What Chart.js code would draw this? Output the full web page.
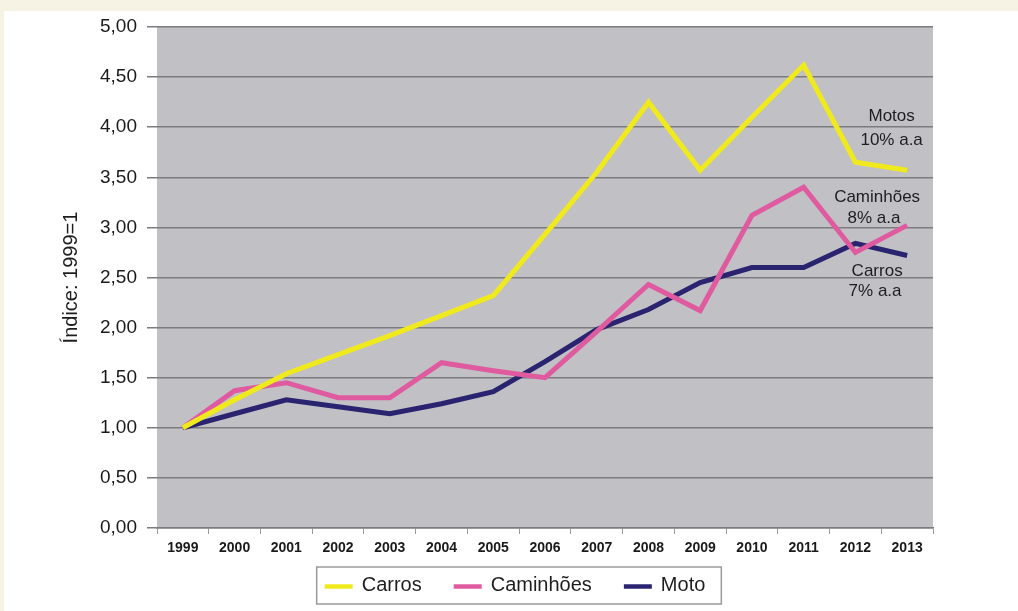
<!DOCTYPE html>
<html>
<head>
<meta charset="utf-8">
<script src="https://cdn.jsdelivr.net/npm/chart.js@4.4.1/dist/chart.umd.min.js"></script>
<style>
  html, body { margin: 0; padding: 0; background: #f6f2e4; width: 1018px; height: 611px; overflow: hidden; }
  #panel { position: absolute; left: 4px; top: 11px; width: 1014px; height: 600px; background: #ffffff; }
  #wrap { position: absolute; left: 0; top: 0; width: 1018px; height: 611px; }
</style>
</head>
<body>
<div id="panel"></div>
<div id="wrap"><canvas id="c" width="1018" height="611"></canvas></div>
<script>
// ---- Data ----
const years = ['1999','2000','2001','2002','2003','2004','2005','2006','2007','2008','2009','2010','2011','2012','2013'];
const carros    = [1.00, 1.28, 1.54, 1.73, 1.92, 2.12, 2.32, 2.93, 3.55, 4.25, 3.57, 4.10, 4.62, 3.65, 3.57];
const caminhoes = [1.00, 1.37, 1.45, 1.30, 1.30, 1.65, 1.57, 1.50, 1.96, 2.43, 2.17, 3.12, 3.40, 2.75, 3.02];
const moto      = [1.00, 1.14, 1.28, 1.21, 1.14, 1.24, 1.36, 1.66, 1.98, 2.18, 2.45, 2.60, 2.60, 2.84, 2.72];
const seriesNames = ['Carros', 'Caminhões', 'Moto'];
const yTickValues = [0, 0.5, 1, 1.5, 2, 2.5, 3, 3.5, 4, 4.5, 5];
const yTitle = 'Índice: 1999=1';
// Annotation texts placed in data coordinates (x = category index, y = value)
const noteLines = ['Motos', '10% a.a', 'Caminhões', '8% a.a', 'Carros', '7% a.a'];
const noteX     = [13.70, 13.70, 13.42, 13.36, 13.42, 13.38];
const noteY     = [4.11, 3.87, 3.30, 3.09, 2.56, 2.36];

const colors = ['#f0ea1c', '#e05aa0', '#2a2470'];
const FONT = '"Liberation Sans", Arial, sans-serif';

const plotBg = {
  id: 'plotBg',
  beforeDraw(chart) {
    const {ctx, chartArea: a} = chart;
    ctx.save();
    ctx.fillStyle = '#c0c0c5';
    ctx.fillRect(a.left, a.top, a.right - a.left, a.bottom - a.top);
    ctx.restore();
  }
};

const notes = {
  id: 'notes',
  afterDatasetsDraw(chart) {
    const {ctx, scales: {x, y}} = chart;
    ctx.save();
    ctx.font = '17px ' + FONT;
    ctx.fillStyle = '#1e1e1e';
    ctx.textAlign = 'center';
    ctx.textBaseline = 'middle';
    noteLines.forEach((t, i) => {
      ctx.fillText(t, x.getPixelForValue(noteX[i]), y.getPixelForValue(noteY[i]));
    });
    ctx.restore();
  }
};

const boxLegend = {
  id: 'boxLegend',
  afterDraw(chart) {
    const ctx = chart.ctx;
    const ds = chart.data.datasets;
    ctx.save();
    ctx.font = '20px ' + FONT;
    const lineW = 28, gap = 9, itemGap = 32, padL = 8, padR = 16;
    const widths = ds.map(d => lineW + gap + ctx.measureText(d.label).width);
    const total = widths.reduce((s, w) => s + w, 0) + itemGap * (ds.length - 1);
    const boxW = total + padL + padR;
    const cx = 519, top = 567, h = 37;
    const left = cx - boxW / 2;
    ctx.fillStyle = '#ffffff';
    ctx.fillRect(left, top, boxW, h);
    ctx.strokeStyle = '#9a9a9a';
    ctx.lineWidth = 1.5;
    ctx.strokeRect(left, top, boxW, h);
    let xx = left + padL;
    const yy = top + h / 2;
    ds.forEach((d, i) => {
      ctx.strokeStyle = d.borderColor;
      ctx.lineWidth = 4.5;
      ctx.beginPath();
      ctx.moveTo(xx, yy + 1);
      ctx.lineTo(xx + lineW, yy + 1);
      ctx.stroke();
      ctx.fillStyle = '#1e1e1e';
      ctx.textAlign = 'left';
      ctx.textBaseline = 'middle';
      ctx.fillText(d.label, xx + lineW + gap, yy);
      xx += widths[i] + itemGap;
    });
    ctx.restore();
  }
};

new Chart(document.getElementById('c'), {
  type: 'line',
  data: {
    labels: years,
    datasets: [
      { label: seriesNames[0], data: carros,    borderColor: colors[0], backgroundColor: colors[0] },
      { label: seriesNames[1], data: caminhoes, borderColor: colors[1], backgroundColor: colors[1] },
      { label: seriesNames[2], data: moto,      borderColor: colors[2], backgroundColor: colors[2] }
    ]
  },
  options: {
    responsive: false,
    animation: false,
    devicePixelRatio: 1,
    layout: { padding: { left: 0, right: 85, top: 27, bottom: 53 } },
    elements: {
      line: { borderWidth: 5, tension: 0, fill: false },
      point: { radius: 0, hoverRadius: 0 }
    },
    plugins: { legend: { display: false }, tooltip: { enabled: false } },
    scales: {
      x: {
        type: 'category',
        offset: true,
        grid: { offset: true, drawOnChartArea: false, drawTicks: true, tickLength: 6, color: '#9a9a9a', lineWidth: 1 },
        border: { display: true, color: '#7c7c80', width: 1.5 },
        ticks: { color: '#1a1a1a', font: { family: FONT, size: 14, weight: 'bold' }, padding: 6, maxRotation: 0, autoSkip: false },
        afterFit(s) { s.height = 30; }
      },
      y: {
        min: 0, max: 5,
        afterBuildTicks(s) { s.ticks = yTickValues.map(v => ({ value: v })); },
        grid: { color: '#7c7c80', lineWidth: 1.5, tickLength: 10, drawTicks: true },
        border: { display: false },
        ticks: {
          color: '#1a1a1a', padding: 10,
          font: { family: FONT, size: 19 },
          callback: v => Number(v).toFixed(2).replace('.', ',')
        },
        title: { display: true, text: yTitle, color: '#1e1e1e', font: { family: FONT, size: 20 }, padding: { top: 59, bottom: 0 } },
        afterFit(s) { s.width = 157; }
      }
    }
  },
  plugins: [plotBg, notes, boxLegend]
});
</script>
</body>
</html>
